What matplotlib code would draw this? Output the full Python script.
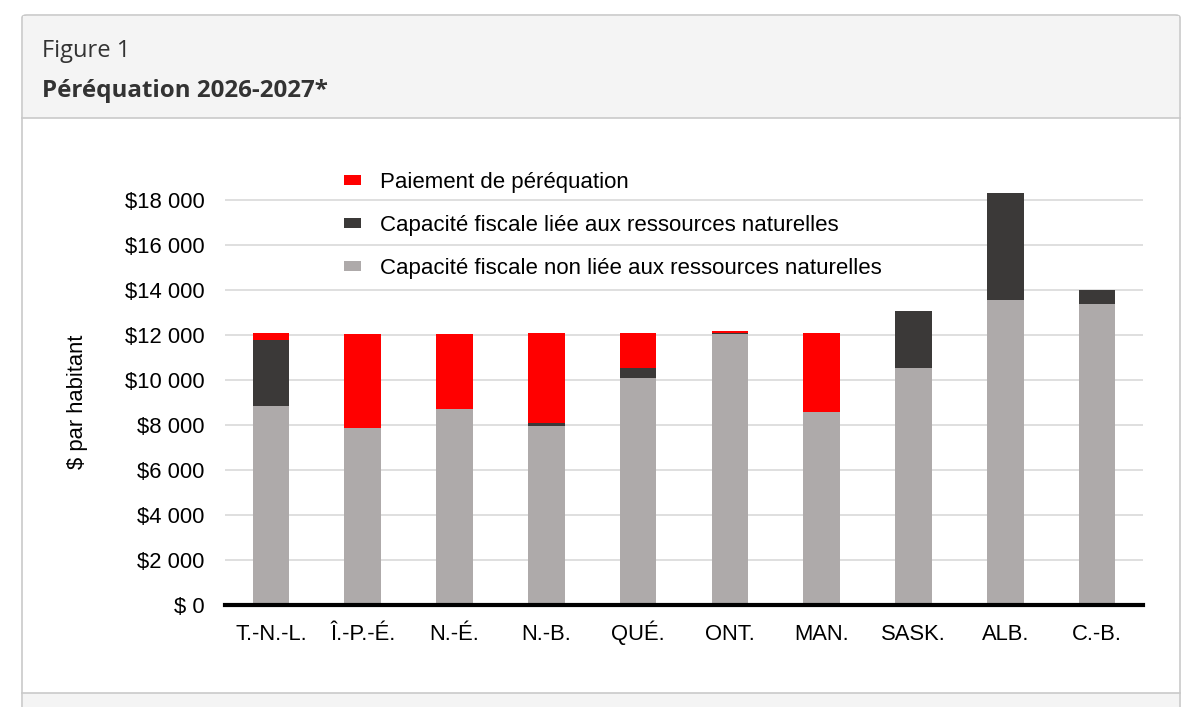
import matplotlib
matplotlib.use("Agg")
import matplotlib.pyplot as plt
from matplotlib.patches import Rectangle, FancyBboxPatch
from matplotlib.lines import Line2D
from matplotlib.ticker import FuncFormatter
import numpy as np

# ---- data ----
categories = ['T.-N.-L.', 'Î.-P.-É.', 'N.-É.', 'N.-B.', 'QUÉ.', 'ONT.', 'MAN.', 'SASK.', 'ALB.', 'C.-B.']
non_resource = [8830, 7880, 8700, 7960, 10100, 12040, 8560, 10550, 13540, 13380]
resource = [2950, 0, 0, 130, 430, 40, 40, 2530, 4760, 610]
equalization = [320, 4150, 3330, 4010, 1570, 100, 3500, 0, 0, 0]
labels = ['Paiement de péréquation',
          'Capacité fiscale liée aux ressources naturelles',
          'Capacité fiscale non liée aux ressources naturelles']
yticks = list(range(0, 18001, 2000))

C_RED = '#ff0000'
C_DARK = '#3b3938'
C_GRAY = '#aeaaaa'

W, H = 1200, 707
fig = plt.figure(figsize=(12, 7.07), dpi=100)
fig.patch.set_facecolor('white')

def fx(px):
    return px / W

def fy(py):
    return 1 - py / H

# ---- frame / header ----
border = '#c9c9c9'
fig.patches.append(FancyBboxPatch((fx(22), fy(740)), fx(1180) - fx(22), fy(15) - fy(740),
                                  boxstyle='round,pad=0,rounding_size=0.004',
                                  transform=fig.transFigure, facecolor='white',
                                  edgecolor=border, linewidth=1.2, zorder=-3))
fig.patches.append(Rectangle((fx(23), fy(118)), fx(1179) - fx(23), fy(16) - fy(118),
                             transform=fig.transFigure, facecolor='#f4f4f4',
                             edgecolor='none', zorder=-2))
fig.lines.append(Line2D([fx(22), fx(1180)], [fy(118), fy(118)], transform=fig.transFigure,
                        color=border, linewidth=1.2, zorder=-1))
fig.patches.append(Rectangle((fx(23), fy(707)), fx(1179) - fx(23), fy(693) - fy(707),
                             transform=fig.transFigure, facecolor='#f4f4f4',
                             edgecolor='none', zorder=-2))
fig.lines.append(Line2D([fx(22), fx(1180)], [fy(693), fy(693)], transform=fig.transFigure,
                        color=border, linewidth=1.2, zorder=-1))

fig.text(fx(42), fy(51), 'Figure 1', family='Open Sans', fontsize=17,
         color='#333333', va='center', ha='left')
fig.text(fx(42), fy(91), 'Péréquation 2026-2027*', family='Open Sans', fontweight='bold',
         fontsize=17.4, color='#333333', va='center', ha='left')

# ---- axes ----
ymax = 19500
ax_left, ax_right, ax_bottom = 225, 1143, 605
ax_top = ax_bottom - ymax / 1000 * 22.5
ax = fig.add_axes([fx(ax_left), fy(ax_bottom), fx(ax_right) - fx(ax_left),
                   (ax_bottom - ax_top) / H])
ax.set_facecolor('none')

x = np.arange(len(categories))
bw = 0.40
nr = np.array(non_resource)
rs = np.array(resource)
eq = np.array(equalization)
b3 = ax.bar(x, nr, bw, color=C_GRAY, zorder=3, label=labels[2])
b2 = ax.bar(x, rs, bw, bottom=nr, color=C_DARK, zorder=3, label=labels[1])
b1 = ax.bar(x, eq, bw, bottom=nr + rs, color=C_RED, zorder=3, label=labels[0])

ax.set_xlim(-0.5, len(categories) - 0.5)
ax.set_ylim(0, ymax)
ax.set_yticks(yticks)
ax.yaxis.set_major_formatter(FuncFormatter(
    lambda v, p: '$' + ('{:,.0f}'.format(v).replace(',', ' ') if v else ' 0')))
ax.grid(axis='y', color='#d9d9d9', linewidth=1.2, zorder=0)
ax.set_axisbelow(True)
for s in ['top', 'right', 'left']:
    ax.spines[s].set_visible(False)
ax.spines['bottom'].set_linewidth(3)
ax.spines['bottom'].set_color('black')
ax.spines['bottom'].set_zorder(5)
ax.set_xticks(x)
ax.set_xticklabels(categories, va='baseline')
ax.tick_params(axis='both', length=0, labelsize=15.8, labelcolor='black')
ax.tick_params(axis='y', pad=14.5)
ax.tick_params(axis='x', pad=25.5)
for t in ax.get_xticklabels() + ax.get_yticklabels():
    t.set_family('Liberation Sans')
for t in ax.get_xticklabels():
    t.set_va('baseline')

fig.text(fx(78), fy(402), '$ par habitant', rotation=90, family='Liberation Sans',
         fontsize=15.8, va='center', ha='center', color='black')

leg = fig.legend([b1, b2, b3], labels, loc='upper left',
                 bbox_to_anchor=(fx(344), fy(172)), bbox_transform=fig.transFigure,
                 frameon=False, prop={'family': 'Liberation Sans', 'size': 16},
                 handlelength=0.78, handleheight=0.32, handletextpad=0.85,
                 labelspacing=0.99, borderpad=0, borderaxespad=0)

fig.savefig('out.png', dpi=100)
